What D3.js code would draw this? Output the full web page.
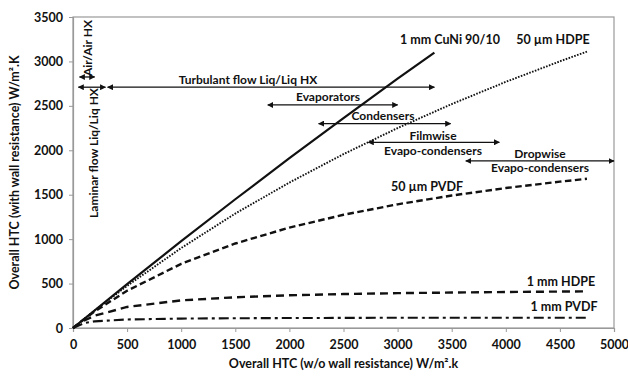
<!DOCTYPE html>
<html><head><meta charset="utf-8">
<script src="https://cdn.jsdelivr.net/npm/d3@7"></script>
<style>
body{margin:0;background:#fff;}
text{font-family:Lato,"Open Sans",sans-serif;font-weight:bold;fill:#111;}
</style></head><body>
<svg id="chart" width="628" height="378"></svg>
<script>
// ---- data ----
const htc = [0, 100, 200, 500, 1000, 1500, 2000, 2500, 3000, 3500, 4000, 4500, 4750];
const htcCuNi = [0, 500, 1000, 1500, 2000, 2500, 3000, 3340];
const cuNi = [0, 494, 977, 1449, 1911, 2363, 2806, 3100];
const hdpe50 = [0, 99, 196, 474, 900, 1288, 1637, 1957, 2250, 2520, 2770, 3001, 3110];
const pvdf50 = [0, 96, 186, 419, 722, 951, 1130, 1274, 1392, 1491, 1575, 1647, 1679];
const hdpe1 = [0, 82, 138, 237, 311, 346, 368, 382, 392, 399, 405, 410, 412];
const pvdf1 = [0, 54, 75, 96, 106, 110, 112, 114, 115, 115, 116, 116, 116];
const xTicks = [0, 500, 1000, 1500, 2000, 2500, 3000, 3500, 4000, 4500, 5000];
const yTicks = [0, 500, 1000, 1500, 2000, 2500, 3000, 3500];
const seriesNames = ["1 mm CuNi 90/10", "50 µm HDPE", "50 µm PVDF", "1 mm HDPE", "1 mm PVDF"];
const rangeNames = ["Air/Air HX", "Laminar flow Liq/Liq HX", "Turbulant flow Liq/Liq HX", "Evaporators", "Condensers", "Filmwise", "Dropwise"];
const rangeStart = [60, 50, 320, 1800, 2270, 2730, 3630];
const rangeEnd = [200, 300, 3340, 3000, 3490, 3940, 5000];
const rangeY = [2825, 2710, 2710, 2510, 2300, 2090, 1880];

// ---- layout ----
const svg = d3.select("#chart");
const m = {l: 73, r: 14, t: 17, b: 50};
const W = 628, H = 378;
const x = d3.scaleLinear().domain([0, 5000]).range([m.l, W - m.r]);
const y = d3.scaleLinear().domain([0, 3500]).range([H - m.b, m.t]);

svg.append("rect").attr("width", W).attr("height", H).attr("fill", "#fff");

const defs = svg.append("defs");
defs.append("marker").attr("id", "ah").attr("viewBox", "0 0 10 10")
  .attr("refX", 9).attr("refY", 5).attr("markerWidth", 6).attr("markerHeight", 6)
  .attr("markerUnits", "userSpaceOnUse").attr("orient", "auto-start-reverse")
  .append("path").attr("d", "M0,0L10,5L0,10z").attr("fill", "#111");

// plot frame
svg.append("rect").attr("x", x(0)).attr("y", y(3500))
  .attr("width", x(5000) - x(0)).attr("height", y(0) - y(3500))
  .attr("fill", "none").attr("stroke", "#999").attr("stroke-width", 1.2);

// axes
const fmt = d3.format("d");
const xAxis = svg.append("g").attr("transform", `translate(0,${y(0)})`)
  .call(d3.axisBottom(x).tickValues(xTicks).tickFormat(fmt).tickSize(4).tickPadding(8));
const yAxis = svg.append("g").attr("transform", `translate(${x(0)},0)`)
  .call(d3.axisLeft(y).tickValues(yTicks).tickFormat(fmt).tickSize(4).tickPadding(6));
[xAxis, yAxis].forEach(g => {
  g.select(".domain").attr("stroke", "#999").attr("stroke-width", 1.2);
  g.selectAll(".tick line").attr("stroke", "#999");
  g.selectAll(".tick text").attr("font-size", 12.5).attr("font-family", "Lato").attr("font-weight", "bold").attr("fill", "#111");
});

// axis titles
svg.append("text").attr("x", (x(0) + x(5000)) / 2).attr("y", 368)
  .attr("text-anchor", "middle").attr("font-size", 12.5)
  .text("Overall HTC (w/o wall resistance) W/m².k");
svg.append("text").attr("transform", `translate(19,${(y(0) + y(3500)) / 2}) rotate(-90)`)
  .attr("text-anchor", "middle").attr("font-size", 12.5)
  .text("Overall HTC (with wall resistance) W/m².K");

// lines
const line = (xs) => d3.line().x((d, i) => x(xs[i])).y(d => y(d));
const styles = [
  {data: cuNi, xs: htcCuNi, dash: null, w: 2.2},
  {data: hdpe50, xs: htc, dash: "1.6,1.4", w: 1.9},
  {data: pvdf50, xs: htc, dash: "6.5,3.5", w: 2.4},
  {data: hdpe1, xs: htc, dash: "8,5", w: 2.4},
  {data: pvdf1, xs: htc, dash: "10,4,3,4", w: 2.1}
];
styles.forEach(s => {
  svg.append("path").datum(s.data).attr("d", line(s.xs))
    .attr("fill", "none").attr("stroke", "#111").attr("stroke-width", s.w)
    .attr("stroke-dasharray", s.dash);
});

// series labels
const seriesLabelX = [3484, 4436, 3272, 4510, 4538];
const seriesLabelY = [3241, 3241, 1587, 518, 236];
seriesNames.forEach((n, i) => {
  svg.append("text").attr("x", x(seriesLabelX[i])).attr("y", y(seriesLabelY[i]))
    .attr("dy", "0.35em").attr("text-anchor", "middle").attr("font-size", 12.5).text(n);
});

// range arrows
rangeNames.forEach((n, i) => {
  svg.append("line").attr("x1", x(rangeStart[i])).attr("x2", x(rangeEnd[i]))
    .attr("y1", y(rangeY[i])).attr("y2", y(rangeY[i]))
    .attr("stroke", "#111").attr("stroke-width", 1.3)
    .attr("marker-start", "url(#ah)").attr("marker-end", "url(#ah)");
});

// range labels
const fs = 12;
function lab(t, xv, yv, rot) {
  const tx = svg.append("text").attr("font-size", fs).attr("text-anchor", "middle").attr("dy", "0.35em").text(t);
  if (rot) tx.attr("transform", `translate(${xv},${yv}) rotate(-90)`);
  else tx.attr("x", x(xv)).attr("y", y(yv));
}
lab(rangeNames[0], 88, 48, true);
lab(rangeNames[1], 94, 153, true);
lab(rangeNames[2], 1617, 2791);
lab(rangeNames[3], 2357, 2600);
lab(rangeNames[4], 2865, 2385);
lab(rangeNames[5], 3327, 2160);
lab("Evapo-condensers", 3327, 1995);
lab(rangeNames[6], 4316, 1965);
lab("Evapo-condensers", 4316, 1805);
</script>
</body></html>
